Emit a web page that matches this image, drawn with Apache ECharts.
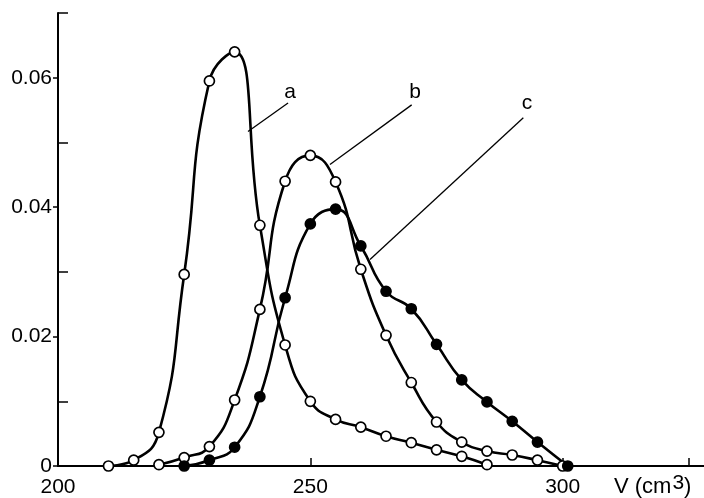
<!DOCTYPE html>
<html>
<head>
<meta charset="utf-8">
<script src="https://cdn.jsdelivr.net/npm/echarts@6/dist/echarts.min.js"></script>
<style>
  html, body { margin: 0; padding: 0; background: #fff; }
  #chart { width: 704px; height: 498px; }
</style>
</head>
<body>
<div id="chart"></div>
<script>
// Elution curves a, b, c: volume V (cm3) against concentration
const volumesA = [210, 215, 220, 225, 230, 235, 240, 245, 250, 255, 260, 265, 270, 275, 280, 285];
const valuesA = [0, 0.0009, 0.0052, 0.0296, 0.0595, 0.064, 0.0372, 0.0187, 0.01, 0.0072, 0.006, 0.0046, 0.0036, 0.0025, 0.0015, 0.0002];

const volumesB = [220, 225, 230, 235, 240, 245, 250, 255, 260, 265, 270, 275, 280, 285, 290, 295, 300];
const valuesB = [0.0002, 0.0013, 0.003, 0.0102, 0.0242, 0.044, 0.048, 0.0439, 0.0304, 0.0202, 0.0129, 0.0068, 0.0037, 0.0023, 0.0017, 0.0009, 0];

const volumesC = [225, 230, 235, 240, 245, 250, 255, 260, 265, 270, 275, 280, 285, 290, 295, 301];
const valuesC = [0, 0.0009, 0.0029, 0.0107, 0.026, 0.0374, 0.0397, 0.034, 0.027, 0.0243, 0.0188, 0.0133, 0.0099, 0.0069, 0.0037, 0];

// tick labels
const xLabels = [200, 250, 300];
const xTicks = [250, 300, 325];
const yLabels = [0, 0.02, 0.04, 0.06];
const yMinorTicks = [0.01, 0.03, 0.05, 0.07];

// curve letters and their leader lines, in data units
const curveNames = ['a', 'b', 'c'];
const namePos = [[245.97, 0.0577], [270.73, 0.0577], [292.93, 0.0561]];
const leaderFrom = [[237.65, 0.0517], [253.89, 0.0466], [261.82, 0.0319]];
const leaderTo = [[245.58, 0.0561], [270.08, 0.0558], [292.2, 0.0538]];

const font = 'Liberation Sans';

function pairs(xs, ys) {
  return xs.map((x, i) => [x, ys[i]]);
}

function curve(index, xs, ys, filled) {
  return {
    type: 'line',
    data: pairs(xs, ys),
    smooth: 0.5,
    symbol: 'circle',
    symbolSize: 10,
    itemStyle: {
      color: filled ? '#000' : '#fff',
      borderColor: '#000',
      borderWidth: 1.7,
    },
    lineStyle: { color: '#000', width: 2.6 },
    markLine: {
      silent: true,
      symbol: 'none',
      lineStyle: { color: '#000', width: 1.3, type: 'solid' },
      label: { show: false },
      data: [[{ coord: leaderFrom[index] }, { coord: leaderTo[index] }]],
    },
    markPoint: {
      silent: true,
      symbol: 'circle',
      symbolSize: 0,
      label: {
        show: true,
        position: 'inside',
        formatter: curveNames[index],
        color: '#000',
        fontFamily: font,
        fontSize: 21,
      },
      data: [{ coord: namePos[index] }],
    },
  };
}

const chart = echarts.init(document.getElementById('chart'));
const option = {
  animation: false,
  grid: { left: 58, right: 0, top: 13, bottom: 31, containLabel: false },
  xAxis: {
    type: 'value',
    min: 200,
    max: 328,
    axisLine: { lineStyle: { color: '#000', width: 2 } },
    axisTick: {
      inside: true,
      length: 8,
      customValues: xTicks,
      lineStyle: { color: '#000', width: 1.5 },
    },
    axisLabel: {
      customValues: xLabels,
      color: '#000',
      fontFamily: font,
      fontSize: 21,
      margin: 11,
    },
    splitLine: { show: false },
  },
  yAxis: [
    {
      type: 'value',
      min: 0,
      max: 0.07,
      axisLine: { show: true, lineStyle: { color: '#000', width: 2 } },
      axisTick: {
        show: true,
        length: 5,
        customValues: yLabels,
        lineStyle: { color: '#000', width: 1.5 },
      },
      axisLabel: {
        customValues: yLabels,
        color: '#000',
        fontFamily: font,
        fontSize: 21,
        margin: 6,
        formatter: (v) => (v === 0 ? '0' : v.toFixed(2)),
      },
      splitLine: { show: false },
    },
    {
      // inner minor ticks on the same left axis
      type: 'value',
      position: 'left',
      min: 0,
      max: 0.07,
      axisLine: { show: false },
      axisTick: {
        show: true,
        inside: true,
        length: 10,
        customValues: yMinorTicks,
        lineStyle: { color: '#000', width: 1.5 },
      },
      axisLabel: { show: false },
      splitLine: { show: false },
    },
  ],
  graphic: [
    {
      type: 'text',
      left: 614,
      top: 473,
      style: {
        text: '{t|V (cm}{s|3}{t|)}',
        rich: {
          t: { fontFamily: font, fontSize: 22, fill: '#000' },
          s: { fontFamily: font, fontSize: 21, fill: '#000', verticalAlign: 'top', padding: [0, 0, 6, 1] },
        },
      },
    },
  ],
  series: [
    curve(0, volumesA, valuesA, false),
    curve(1, volumesB, valuesB, false),
    curve(2, volumesC, valuesC, true),
  ],
};
chart.setOption(option);
</script>
</body>
</html>
